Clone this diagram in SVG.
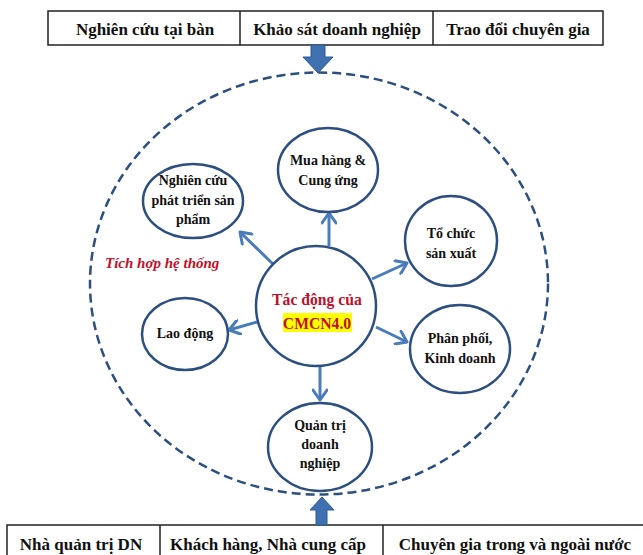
<svg xmlns="http://www.w3.org/2000/svg" width="643" height="555" viewBox="0 0 643 555">
<style>
.cell{fill:#fff;stroke:#222;stroke-width:1.5}
.tt{font-family:"Liberation Serif",serif;font-weight:bold;font-size:17px;fill:#111;text-anchor:middle}
.node{fill:#fff;stroke:#2c4f80;stroke-width:2.5}
.nt{font-family:"Liberation Serif",serif;font-weight:bold;font-size:14px;fill:#111;text-anchor:middle}
.conn{stroke:#4a7cba;stroke-width:3;fill:none;marker-end:url(#ah)}
.blk{fill:#3f70b0;stroke:#2f5c94;stroke-width:1}
.ct{font-family:"Liberation Serif",serif;font-weight:bold;font-size:15.7px;fill:#c0102a;text-anchor:middle}
</style>
<defs>
<marker id="ah" markerUnits="userSpaceOnUse" markerWidth="14" markerHeight="16" viewBox="0 0 14 16" refX="12" refY="8" orient="auto">
<path d="M2,1 L12,8 L2,15" fill="none" stroke="#4a7cba" stroke-width="3" stroke-linecap="round" stroke-linejoin="round"/>
</marker>
</defs>
<rect width="643" height="555" fill="#fff"/>

<g id="top-table">
<rect class="cell" x="48" y="11" width="555" height="34"/>
<line x1="240" y1="11" x2="240" y2="45" stroke="#222" stroke-width="1.5"/>
<line x1="433" y1="11" x2="433" y2="45" stroke="#222" stroke-width="1.5"/>
<text class="tt" x="145" y="35">Nghiên cứu tại bàn</text>
<text class="tt" x="337" y="35">Khảo sát doanh nghiệp</text>
<text class="tt" x="518" y="35">Trao đổi chuyên gia</text>
</g>

<g id="bottom-table">
<rect class="cell" x="7" y="525" width="640" height="40"/>
<line x1="160" y1="525" x2="160" y2="555" stroke="#222" stroke-width="1.5"/>
<line x1="383" y1="525" x2="383" y2="555" stroke="#222" stroke-width="1.5"/>
<text class="tt" x="81" y="550">Nhà quản trị DN</text>
<text class="tt" x="268" y="550">Khách hàng, Nhà cung cấp</text>
<text class="tt" x="515" y="550">Chuyên gia trong và ngoài nước</text>
</g>

<g id="system-boundary">
<ellipse cx="319" cy="283.5" rx="229" ry="211" fill="none" stroke="#2c4f80" stroke-width="2.5" stroke-dasharray="9 5"/>
<text x="105" y="268" font-family="Liberation Serif,serif" font-weight="bold" font-style="italic" font-size="15" fill="#c0102a">Tích hợp hệ thống</text>
</g>

<g id="block-arrows">
<path class="blk" d="M311,45 L325,45 L325,57 L333,57 L318,73 L303,57 L311,57 Z"/>
<path class="blk" d="M316,525 L327,525 L327,510 L334,510 L322,497 L310,510 L316,510 Z"/>
</g>

<g id="connectors">
<line class="conn" x1="329" y1="246" x2="329" y2="213"/>
<line class="conn" x1="275" y1="266" x2="240" y2="232"/>
<line class="conn" x1="372" y1="279" x2="407" y2="263"/>
<line class="conn" x1="376" y1="327" x2="407" y2="342"/>
<line class="conn" x1="257" y1="322" x2="229" y2="330"/>
<line class="conn" x1="320" y1="367" x2="320" y2="400"/>
</g>

<g id="center">
<circle class="node" cx="316" cy="306" r="60"/>
<rect x="283" y="313" width="69" height="19" fill="#ffff00"/>
<text class="ct" x="317" y="305">Tác động của</text>
<text class="ct" x="317" y="329">CMCN4.0</text>
</g>

<g id="mua-hang">
<ellipse class="node" cx="328" cy="170" rx="50" ry="42"/>
<text class="nt" x="328" y="165">Mua hàng &amp;</text>
<text class="nt" x="328" y="185">Cung ứng</text>
</g>

<g id="nghien-cuu">
<ellipse class="node" cx="193" cy="201" rx="50" ry="37"/>
<text class="nt" x="193" y="185">Nghiên cứu</text>
<text class="nt" x="193" y="205">phát triển sản</text>
<text class="nt" x="193" y="224">phẩm</text>
</g>

<g id="to-chuc">
<ellipse class="node" cx="451" cy="241" rx="46" ry="45"/>
<text class="nt" x="451" y="238">Tổ chức</text>
<text class="nt" x="451" y="258">sản xuất</text>
</g>

<g id="phan-phoi">
<ellipse class="node" cx="460" cy="349" rx="50" ry="44"/>
<text class="nt" x="460" y="343">Phân phối,</text>
<text class="nt" x="460" y="363">Kinh doanh</text>
</g>

<g id="lao-dong">
<ellipse class="node" cx="185" cy="334" rx="43" ry="36"/>
<text class="nt" x="185" y="338">Lao động</text>
</g>

<g id="quan-tri">
<ellipse class="node" cx="320" cy="447" rx="52" ry="44"/>
<text class="nt" x="320" y="430">Quản trị</text>
<text class="nt" x="320" y="449">doanh</text>
<text class="nt" x="320" y="468">nghiệp</text>
</g>
</svg>
